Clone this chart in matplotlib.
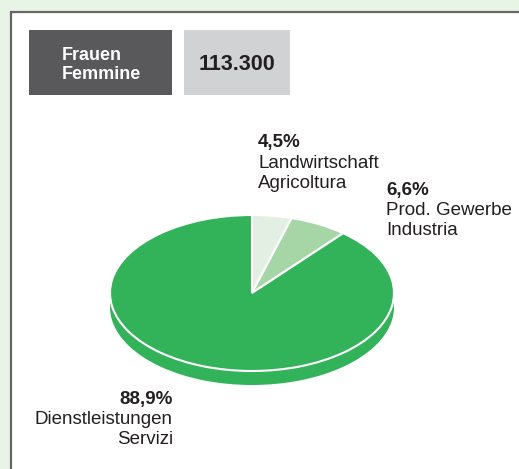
import matplotlib
matplotlib.use("Agg")
import matplotlib.pyplot as plt
from matplotlib.patches import Rectangle

# data
shares = [4.5, 6.6, 88.9]
names_de = ["Landwirtschaft", "Prod. Gewerbe", "Dienstleistungen"]
names_it = ["Agricoltura", "Industria", "Servizi"]
title_de = "Frauen"
title_it = "Femmine"
total = "113.300"

colors = ["#e2efe2", "#a6d6a6", "#32b35a"]
plt.rcParams['font.family'] = ['Liberation Sans', 'DejaVu Sans']
txt = "#231f20"

W, H = 519, 469
fig = plt.figure(figsize=(W / 100, H / 100), dpi=100)
fig.patch.set_facecolor("#e8f4e6")

# background layer in pixel coords
bg = fig.add_axes([0, 0, 1, 1])
bg.set_xlim(0, W)
bg.set_ylim(H, 0)
bg.axis("off")
bg.add_patch(Rectangle((10.5, 12.5), 600, 600, facecolor="white",
                       edgecolor="#666666", linewidth=1.6))
bg.add_patch(Rectangle((29, 30), 143, 65, facecolor="#59595b", edgecolor="none"))
bg.add_patch(Rectangle((184, 30), 106, 65, facecolor="#d1d2d4", edgecolor="none"))
bg.text(62, 59.5, title_de, color="white", fontsize=13, fontweight="bold",
        ha="left", va="baseline")
bg.text(62, 79, title_it, color="white", fontsize=13, fontweight="bold",
        ha="left", va="baseline")
bg.text(237.5, 70, total, color=txt, fontsize=15.5, fontweight="bold",
        ha="center", va="baseline")

# pie labels (x, first baseline, alignment)
lab_pos = [(258, 147, "left"), (386.5, 194.5, "left"), (173, 404, "right")]
for (x, y, ha), s, de, it in zip(lab_pos, shares, names_de, names_it):
    bg.text(x, y, ("%.1f%%" % s).replace(".", ","), fontsize=13.5,
            fontweight="bold", ha=ha, va="baseline", color=txt)
    bg.text(x, y + 20.5, de, fontsize=13.5, ha=ha, va="baseline", color=txt)
    bg.text(x, y + 40.5, it, fontsize=13.5, ha=ha, va="baseline", color=txt)

# pie (top ellipse + depth)
cx, cy, rx, ry, depth = 252, 293, 142, 78, 14
d = depth / ry
ax = fig.add_axes([(cx - rx) / W, (H - (cy + ry + depth)) / H,
                   2 * rx / W, (2 * ry + depth) / H])
ax.pie(shares, startangle=90, counterclock=False, colors=[colors[2]] * 3,
       center=(0, -d), radius=1, wedgeprops=dict(linewidth=0))
ax.pie(shares, startangle=90, counterclock=False, colors=colors,
       center=(0, 0), radius=1, wedgeprops=dict(edgecolor="white", linewidth=1.5))
ax.set_aspect("auto")
ax.set_xlim(-1, 1)
ax.set_ylim(-1 - d, 1)
ax.axis("off")

fig.savefig("out.png", dpi=100, facecolor=fig.get_facecolor())
